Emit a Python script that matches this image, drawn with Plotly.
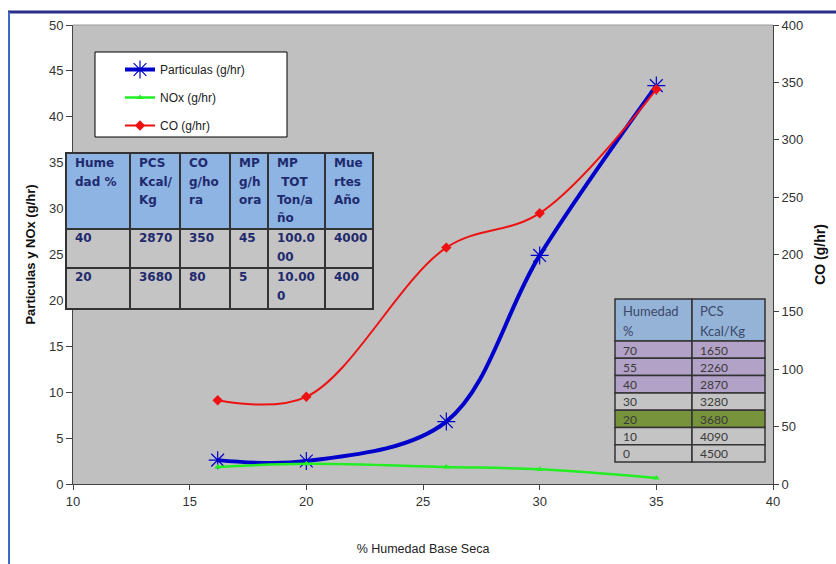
import plotly.graph_objects as go

# Emission measurements versus moisture content (dry basis)
humedad = [16.2, 20, 26, 30, 35]
particulas = [2.6, 2.5, 6.8, 24.9, 43.4]
nox = [1.85, 2.2, 1.85, 1.6, 0.65]
co = [73, 76, 206, 236, 344]

# Summary table (two moisture scenarios)
t1_header = ["Hume<br>dad %", "PCS<br>Kcal/<br>Kg", "CO<br>g/ho<br>ra", "MP<br>g/h<br>ora",
             "MP<br> TOT<br>Ton/a<br>ño", "Mue<br>rtes<br>Año"]
t1_rows = [["40", "2870", "350", "45", "100.0<br>00", "4000"],
           ["20", "3680", "80", "5", "10.00<br>0", "400"]]

# Moisture vs. calorific value table
t2_header = ["Humedad<br>%", "PCS<br>Kcal/Kg"]
t2_humedad = ["70", "55", "40", "30", "20", "10", "0"]
t2_pcs = ["1650", "2260", "2870", "3280", "3680", "4090", "4500"]
t2_fill = ["#B3A2C7", "#B3A2C7", "#B3A2C7", "#C4C4C4", "#77933C", "#C4C4C4", "#C4C4C4"]

W, H = 836, 564
ML, MR, MT, MB = 73, 63, 25, 80
PW, PH = W - ML - MR, H - MT - MB


def fx(x):
    return (x - ML) / PW


def fy(y):
    return (H - MB - y) / PH


shapes = []
annotations = []


def draw_table(col_edges, row_edges, rows, fills, fonts, line_w, pad_x, first, line_h):
    for r, row in enumerate(rows):
        y0, y1 = row_edges[r], row_edges[r + 1]
        for c, txt in enumerate(row):
            x0, x1 = col_edges[c], col_edges[c + 1]
            shapes.append(dict(type="rect", xref="paper", yref="paper",
                               x0=fx(x0), x1=fx(x1), y0=fy(y1), y1=fy(y0),
                               fillcolor=fills[r], line=dict(color="#333333", width=line_w),
                               layer="above"))
            for i, part in enumerate(txt.split("<br>")):
                annotations.append(dict(xref="paper", yref="paper",
                                        x=fx(x0 + pad_x), y=fy(y0 + first[r] + i * line_h[r]),
                                        xanchor="left", yanchor="middle", text=part,
                                        showarrow=False, align="left", font=fonts[r]))


fig = go.Figure()

fig.add_trace(go.Scatter(
    x=humedad, y=particulas, name="Particulas (g/hr)", mode="lines+markers", legendgroup="a",
    line=dict(color="#0000CC", width=4, shape="spline", smoothing=1),
    marker=dict(symbol="asterisk-open", size=15, line=dict(color="#6E6EDD", width=1.2)),
))
fig.add_trace(go.Scatter(
    x=humedad, y=nox, name="NOx (g/hr)", mode="lines+markers", legendgroup="b",
    line=dict(color="#22EE22", width=2.5, shape="spline", smoothing=1),
    marker=dict(symbol="triangle-up", size=6, color="#22EE22"),
))
fig.add_trace(go.Scatter(
    x=humedad, y=co, name="CO (g/hr)", mode="lines+markers", yaxis="y2", legendgroup="c",
    line=dict(color="#EE1111", width=2, shape="spline", smoothing=1),
    marker=dict(symbol="diamond", size=8, color="#EE1111"),
))

t1_font = dict(family="DejaVu Sans, Verdana", size=12, color="#1F2A6E", weight="bold")
draw_table([66, 130, 180, 230, 268, 325, 373], [153, 229, 268, 309],
           [t1_header] + t1_rows, ["#8DB4E2", "#C4C4C4", "#C4C4C4"],
           [t1_font] * 3, 2, 7, [10, 9, 9], [18.5, 18.5, 18.5])

n2 = len(t2_humedad)
t2_edges = [299, 341] + [341 + 17.3 * (i + 1) for i in range(n2)]
t2_font_h = dict(family="Lato, Liberation Sans, Arial", size=13, color="#3A4868")
t2_font_c = dict(family="Lato, Liberation Sans, Arial", size=12, color="#3A3A3A")
draw_table([615, 692, 765], t2_edges,
           [t2_header] + [[a, b] for a, b in zip(t2_humedad, t2_pcs)],
           ["#95B3D7"] + t2_fill, [t2_font_h] + [t2_font_c] * n2,
           1.5, 6, [12] + [9] * n2, [20] * (n2 + 1))

tickfont = dict(family="Liberation Sans Narrow, Arial Narrow, Liberation Sans", size=13, color="#333333")

shapes += [
    # legend frame
    dict(type="rect", xref="paper", yref="paper", x0=fx(95), x1=fx(287), y0=fy(137), y1=fy(52),
         fillcolor="white", line=dict(color="black", width=1), layer="below"),
    # plot area top edge
    dict(type="line", xref="paper", yref="paper", x0=0, x1=1, y0=1, y1=1,
         line=dict(color="#999999", width=1)),
    # page frame
    dict(type="line", xref="paper", yref="paper", x0=fx(8), x1=fx(840), y0=fy(12), y1=fy(12),
         line=dict(color="#2B2F8A", width=3)),
    dict(type="line", xref="paper", yref="paper", x0=fx(9), x1=fx(9), y0=fy(12), y1=fy(570),
         line=dict(color="#3C6CC0", width=2)),
]

fig.update_layout(
    width=W, height=H,
    margin=dict(l=ML, r=MR, t=MT, b=MB),
    paper_bgcolor="white", plot_bgcolor="#C0C0C0",
    showlegend=True,
    legend=dict(x=fx(120), y=fy(55), xanchor="left", yanchor="top",
                bgcolor="rgba(0,0,0,0)", borderwidth=0,
                font=dict(family="Liberation Sans, Arial", size=12, color="#222222"),
                itemwidth=30, tracegroupgap=9),
    xaxis=dict(range=[10, 40], dtick=5, showgrid=False, zeroline=False,
               showline=True, linecolor="#444444", linewidth=1,
               ticks="outside", ticklen=5, tickcolor="#444444", tickfont=tickfont,
               title=dict(text="% Humedad Base Seca", standoff=36,
                          font=dict(family="Liberation Sans Narrow, Arial Narrow, Liberation Sans",
                                    size=12.5, color="#222222"))),
    yaxis=dict(range=[0, 50], dtick=5, showgrid=False, zeroline=False,
               showline=True, linecolor="#444444", linewidth=1,
               ticks="outside", ticklen=6, tickcolor="#444444", tickfont=tickfont,
               title=dict(text="<b>Particulas y NOx (g/hr)</b>", standoff=10,
                          font=dict(family="Liberation Sans, Arial", size=13, color="#111111"))),
    yaxis2=dict(range=[0, 400], dtick=50, overlaying="y", side="right", showgrid=False,
                zeroline=False, showline=True, linecolor="#444444", linewidth=1,
                ticks="outside", ticklen=5, tickcolor="#444444", tickfont=tickfont,
                title=dict(text="<b>CO (g/hr)</b>", standoff=12,
                           font=dict(family="Liberation Sans, Arial", size=14, color="#111111"))),
    shapes=shapes,
    annotations=annotations,
)

fig.write_html("out.html")
